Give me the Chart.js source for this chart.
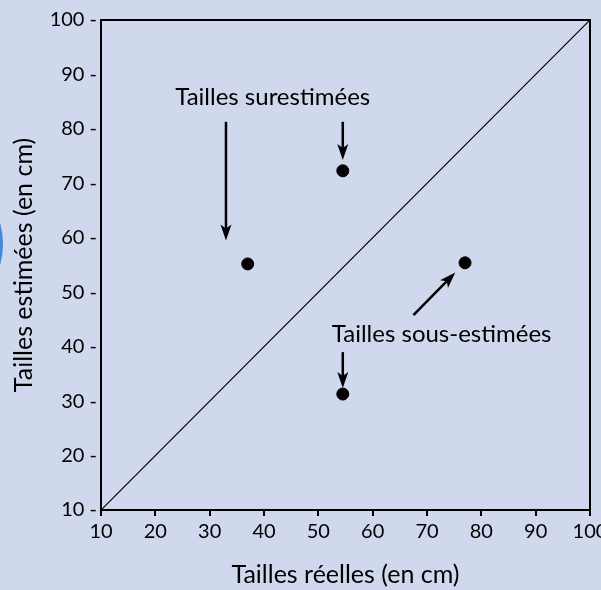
<!DOCTYPE html>
<html>
<head>
<meta charset="utf-8">
<script src="https://cdn.jsdelivr.net/npm/chart.js@4"></script>
<style>
  html, body { margin: 0; padding: 0; background: #d0d8ee; }
  #wrap { width: 601px; height: 590px; }
</style>
</head>
<body>
<div id="wrap"><canvas id="chart"></canvas></div>
<script>
// data
const tickValues = [10, 20, 30, 40, 50, 60, 70, 80, 90, 100];
const pointsX = [37, 54.5, 77, 54.5];
const pointsY = [55.2, 72.3, 55.4, 31.3];
const diagX = [10, 100];
const diagY = [10, 100];
// arrows: [x0, y0, x1, y1] in data units, tip at (x1, y1)
const arrows = [
  [33, 81.3, 33, 59.5],
  [54.5, 81.3, 54.5, 74.3],
  [67.5, 45.8, 75.2, 53.6],
  [54.5, 39.0, 54.5, 32.4]
];
const labels = ['Tailles surestimées', 'Tailles sous-estimées'];
const labelX = [41.6, 72.7];
const labelY = [85.8, 42.3];

const FONT = 'Lato, "Open Sans", sans-serif';

// arrows, annotations, frame
const extras = {
  id: 'extras',
  beforeDraw(chart) {
    const ctx = chart.ctx;
    ctx.save();
    ctx.fillStyle = '#d0d8ee';
    ctx.fillRect(0, 0, chart.width, chart.height);
    // bit of blue decoration on the left edge
    ctx.strokeStyle = '#4a86d8';
    ctx.lineWidth = 4;
    ctx.beginPath();
    ctx.arc(-73, 244, 74, -0.6, 0.6);
    ctx.stroke();
    ctx.strokeStyle = '#eef2fb';
    ctx.lineWidth = 2;
    ctx.beginPath();
    ctx.arc(-73, 244, 71, -0.45, 0.45);
    ctx.stroke();
    ctx.restore();
  },
  afterDatasetsDraw(chart) {
    const ctx = chart.ctx;
    const xs = chart.scales.x, ys = chart.scales.y;
    const a = chart.chartArea;
    ctx.save();
    ctx.strokeStyle = '#000';
    ctx.lineWidth = 2;
    ctx.beginPath();
    ctx.moveTo(a.left, a.top);
    ctx.lineTo(a.right, a.top);
    ctx.lineTo(a.right, a.bottom);
    ctx.stroke();

    ctx.fillStyle = '#000';
    arrows.forEach(r => {
      const x0 = xs.getPixelForValue(r[0]), y0 = ys.getPixelForValue(r[1]);
      const x1 = xs.getPixelForValue(r[2]), y1 = ys.getPixelForValue(r[3]);
      const ang = Math.atan2(y1 - y0, x1 - x0);
      const hl = 16, hw = 5.5;
      const bx = x1 - hl * Math.cos(ang), by = y1 - hl * Math.sin(ang);
      ctx.lineWidth = 2.5;
      ctx.beginPath();
      ctx.moveTo(x0, y0);
      ctx.lineTo(bx + 4 * Math.cos(ang), by + 4 * Math.sin(ang));
      ctx.stroke();
      ctx.beginPath();
      ctx.moveTo(x1, y1);
      ctx.lineTo(bx - hw * Math.sin(ang), by + hw * Math.cos(ang));
      ctx.lineTo(bx + 4 * Math.cos(ang), by + 4 * Math.sin(ang));
      ctx.lineTo(bx + hw * Math.sin(ang), by - hw * Math.cos(ang));
      ctx.closePath();
      ctx.fill();
    });

    ctx.font = '24px ' + FONT;
    ctx.textAlign = 'center';
    ctx.textBaseline = 'middle';
    labels.forEach((t, i) => {
      ctx.fillText(t, xs.getPixelForValue(labelX[i]), ys.getPixelForValue(labelY[i]));
    });
    ctx.restore();
  }
};

new Chart(document.getElementById('chart'), {
  type: 'scatter',
  data: {
    datasets: [
      {
        type: 'line',
        data: diagX.map((x, i) => ({ x: x, y: diagY[i] })),
        borderColor: '#000',
        borderWidth: 1.2,
        pointRadius: 0
      },
      {
        data: pointsX.map((x, i) => ({ x: x, y: pointsY[i] })),
        backgroundColor: '#000',
        borderColor: '#000',
        pointRadius: 6
      }
    ]
  },
  options: {
    responsive: true,
    maintainAspectRatio: false,
    animation: false,
    layout: { padding: { top: 20, right: 11, left: 0, bottom: 0 } },
    plugins: { legend: { display: false }, tooltip: { enabled: false } },
    scales: {
      x: {
        type: 'linear',
        min: 10, max: 100,
        afterBuildTicks: s => { s.ticks = tickValues.map(v => ({ value: v })); },
        afterFit: s => { s.height = 80; s.paddingLeft = 0; s.paddingRight = 0; },
        ticks: { color: '#000', font: { family: FONT, size: 20 }, padding: 4, maxRotation: 0, autoSkip: false },
        grid: { drawOnChartArea: false, color: '#000', tickLength: 6, lineWidth: 2 },
        border: { color: '#000', width: 2 },
        title: {
          display: true, text: 'Tailles réelles (en cm)', color: '#000',
          font: { family: FONT, size: 25 }, padding: { top: 10, bottom: 0 }
        }
      },
      y: {
        type: 'linear',
        min: 10, max: 100,
        afterBuildTicks: s => { s.ticks = tickValues.map(v => ({ value: v })); },
        afterFit: s => { s.width = 101; s.paddingTop = 0; s.paddingBottom = 0; },
        ticks: {
          color: '#000', font: { family: FONT, size: 20 }, padding: 4, autoSkip: false,
          callback: v => v + ' -'
        },
        grid: { display: false, drawTicks: false },
        border: { color: '#000', width: 2 },
        title: {
          display: true, text: 'Tailles estimées (en cm)', color: '#000',
          font: { family: FONT, size: 25 }, padding: { top: 9, bottom: 0 }
        }
      }
    }
  },
  plugins: [extras]
});
</script>
</body>
</html>
